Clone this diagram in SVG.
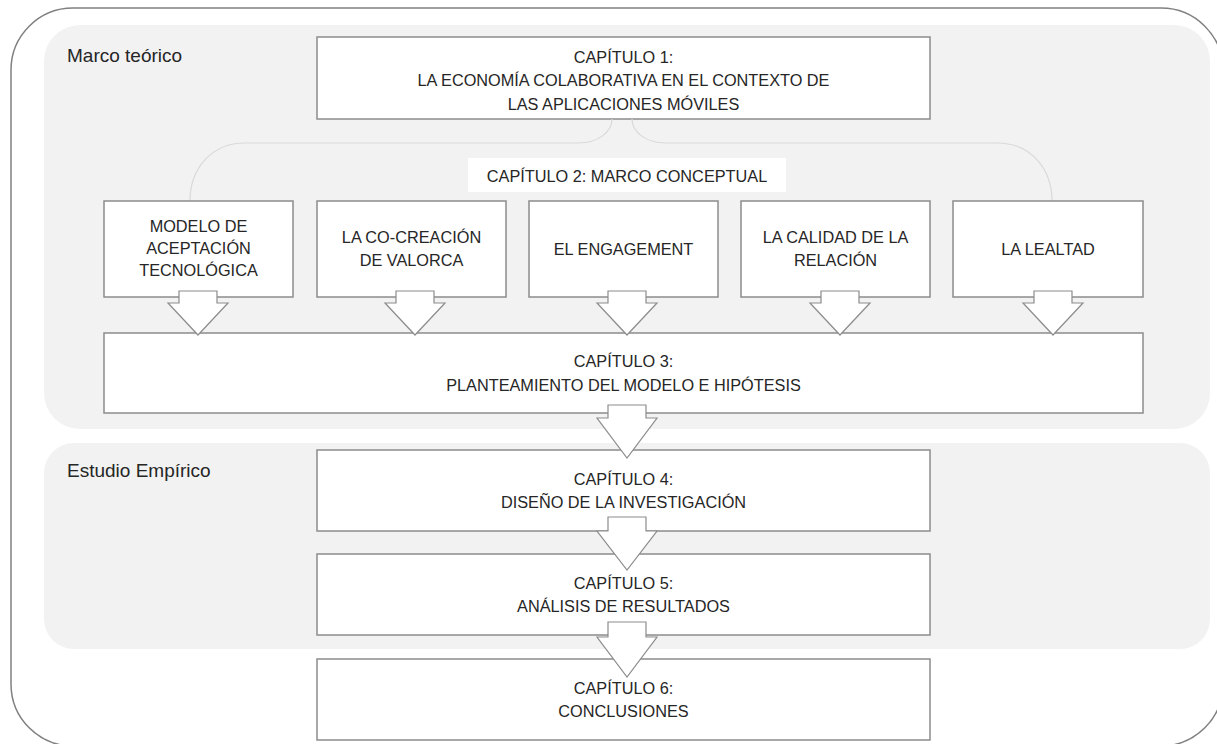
<svg xmlns="http://www.w3.org/2000/svg" width="1217" height="744" viewBox="0 0 1217 744">
<style>
  .panel { fill: #f2f2f2; stroke: none; }
  .box { fill: #ffffff; stroke: #8c8c8c; stroke-width: 1.5; }
  .arrow { fill: #ffffff; stroke: #8c8c8c; stroke-width: 1.2; stroke-linejoin: miter; }
  .brace { fill: none; stroke: #d9d9d9; stroke-width: 1.2; }
  .t { font-family: "Liberation Sans", Arial, sans-serif; font-size: 16.3px; fill: #262626; text-anchor: middle; }
  .lbl { font-family: "Liberation Sans", Arial, sans-serif; font-size: 19px; fill: #262626; }
</style>
<rect x="0" y="0" width="1217" height="744" fill="#ffffff"/>
<g id="frame">
  <rect x="11" y="8" width="1212" height="738" rx="62" ry="62" fill="none" stroke="#808080" stroke-width="1.5"/>
</g>
<g id="panel-marco">
  <rect class="panel" x="44" y="25" width="1166" height="404" rx="36" ry="36"/>
  <text class="lbl" x="67" y="62">Marco teórico</text>
</g>
<g id="panel-estudio">
  <rect class="panel" x="44" y="443" width="1166" height="206" rx="30" ry="30"/>
  <text class="lbl" x="67" y="477">Estudio Empírico</text>
</g>
<g id="ch1">
  <rect class="box" x="317" y="37" width="613" height="82"/>
  <text class="t" x="623.5" y="62.5">CAPÍTULO 1:</text>
  <text class="t" x="623.5" y="86">LA ECONOMÍA COLABORATIVA EN EL CONTEXTO DE</text>
  <text class="t" x="623.5" y="109.5">LAS APLICACIONES MÓVILES</text>
</g>
<g id="connectors">
  <path class="brace" d="M190,201 C190,168 212,143 245,143 L578,143 C598,143 612,132 612,119"/>
  <path class="brace" d="M632,119 C632,132 646,143 666,143 L997,143 C1030,143 1052,168 1052,201"/>
</g>
<g id="ch2">
  <rect x="468" y="158" width="318" height="34" fill="#ffffff"/>
  <text class="t" x="627" y="182">CAPÍTULO 2: MARCO CONCEPTUAL</text>
</g>
<g id="tam">
  <rect class="box" x="104" y="201" width="189" height="96"/>
  <text class="t" x="198.5" y="232">MODELO DE</text>
  <text class="t" x="198.5" y="254">ACEPTACIÓN</text>
  <text class="t" x="198.5" y="276">TECNOLÓGICA</text>
</g>
<g id="cocreacion">
  <rect class="box" x="317" y="201" width="189" height="96"/>
  <text class="t" x="411.5" y="243">LA CO-CREACIÓN</text>
  <text class="t" x="411.5" y="266">DE VALORCA</text>
</g>
<g id="engagement">
  <rect class="box" x="529" y="201" width="189" height="96"/>
  <text class="t" x="623.5" y="255">EL ENGAGEMENT</text>
</g>
<g id="calidad">
  <rect class="box" x="741" y="201" width="189" height="96"/>
  <text class="t" x="835.5" y="243">LA CALIDAD DE LA</text>
  <text class="t" x="835.5" y="266">RELACIÓN</text>
</g>
<g id="lealtad">
  <rect class="box" x="953" y="201" width="190" height="96"/>
  <text class="t" x="1048" y="255">LA LEALTAD</text>
</g>
<g id="ch3">
  <rect class="box" x="104" y="333" width="1039" height="80"/>
  <text class="t" x="623.5" y="367">CAPÍTULO 3:</text>
  <text class="t" x="623.5" y="390.5">PLANTEAMIENTO DEL MODELO E HIPÓTESIS</text>
</g>
<g id="ch4">
  <rect class="box" x="317" y="450" width="613" height="81"/>
  <text class="t" x="623.5" y="484.5">CAPÍTULO 4:</text>
  <text class="t" x="623.5" y="508">DISEÑO DE LA INVESTIGACIÓN</text>
</g>
<g id="ch5">
  <rect class="box" x="317" y="554" width="613" height="81"/>
  <text class="t" x="623.5" y="588.5">CAPÍTULO 5:</text>
  <text class="t" x="623.5" y="612">ANÁLISIS DE RESULTADOS</text>
</g>
<g id="ch6">
  <rect class="box" x="317" y="659" width="613" height="81"/>
  <text class="t" x="623.5" y="693.5">CAPÍTULO 6:</text>
  <text class="t" x="623.5" y="717">CONCLUSIONES</text>
</g>
<g id="arrows">
  <polygon class="arrow" points="179,291 217,291 217,303 228,303 198,335 168,303 179,303"/>
  <polygon class="arrow" points="396,291 434,291 434,303 445,303 415,335 385,303 396,303"/>
  <polygon class="arrow" points="608,291 646,291 646,303 657,303 627,335 597,303 608,303"/>
  <polygon class="arrow" points="821,291 859,291 859,303 870,303 840,335 810,303 821,303"/>
  <polygon class="arrow" points="1034,291 1072,291 1072,303 1083,303 1053,335 1023,303 1034,303"/>
  <polygon class="arrow" points="608,405 646,405 646,418 657,418 627,458 597,418 608,418"/>
  <polygon class="arrow" points="608,517 646,517 646,531 657,531 627,570 597,531 608,531"/>
  <polygon class="arrow" points="608,622 646,622 646,637 657,637 627,677 597,637 608,637"/>
</g>
</svg>
